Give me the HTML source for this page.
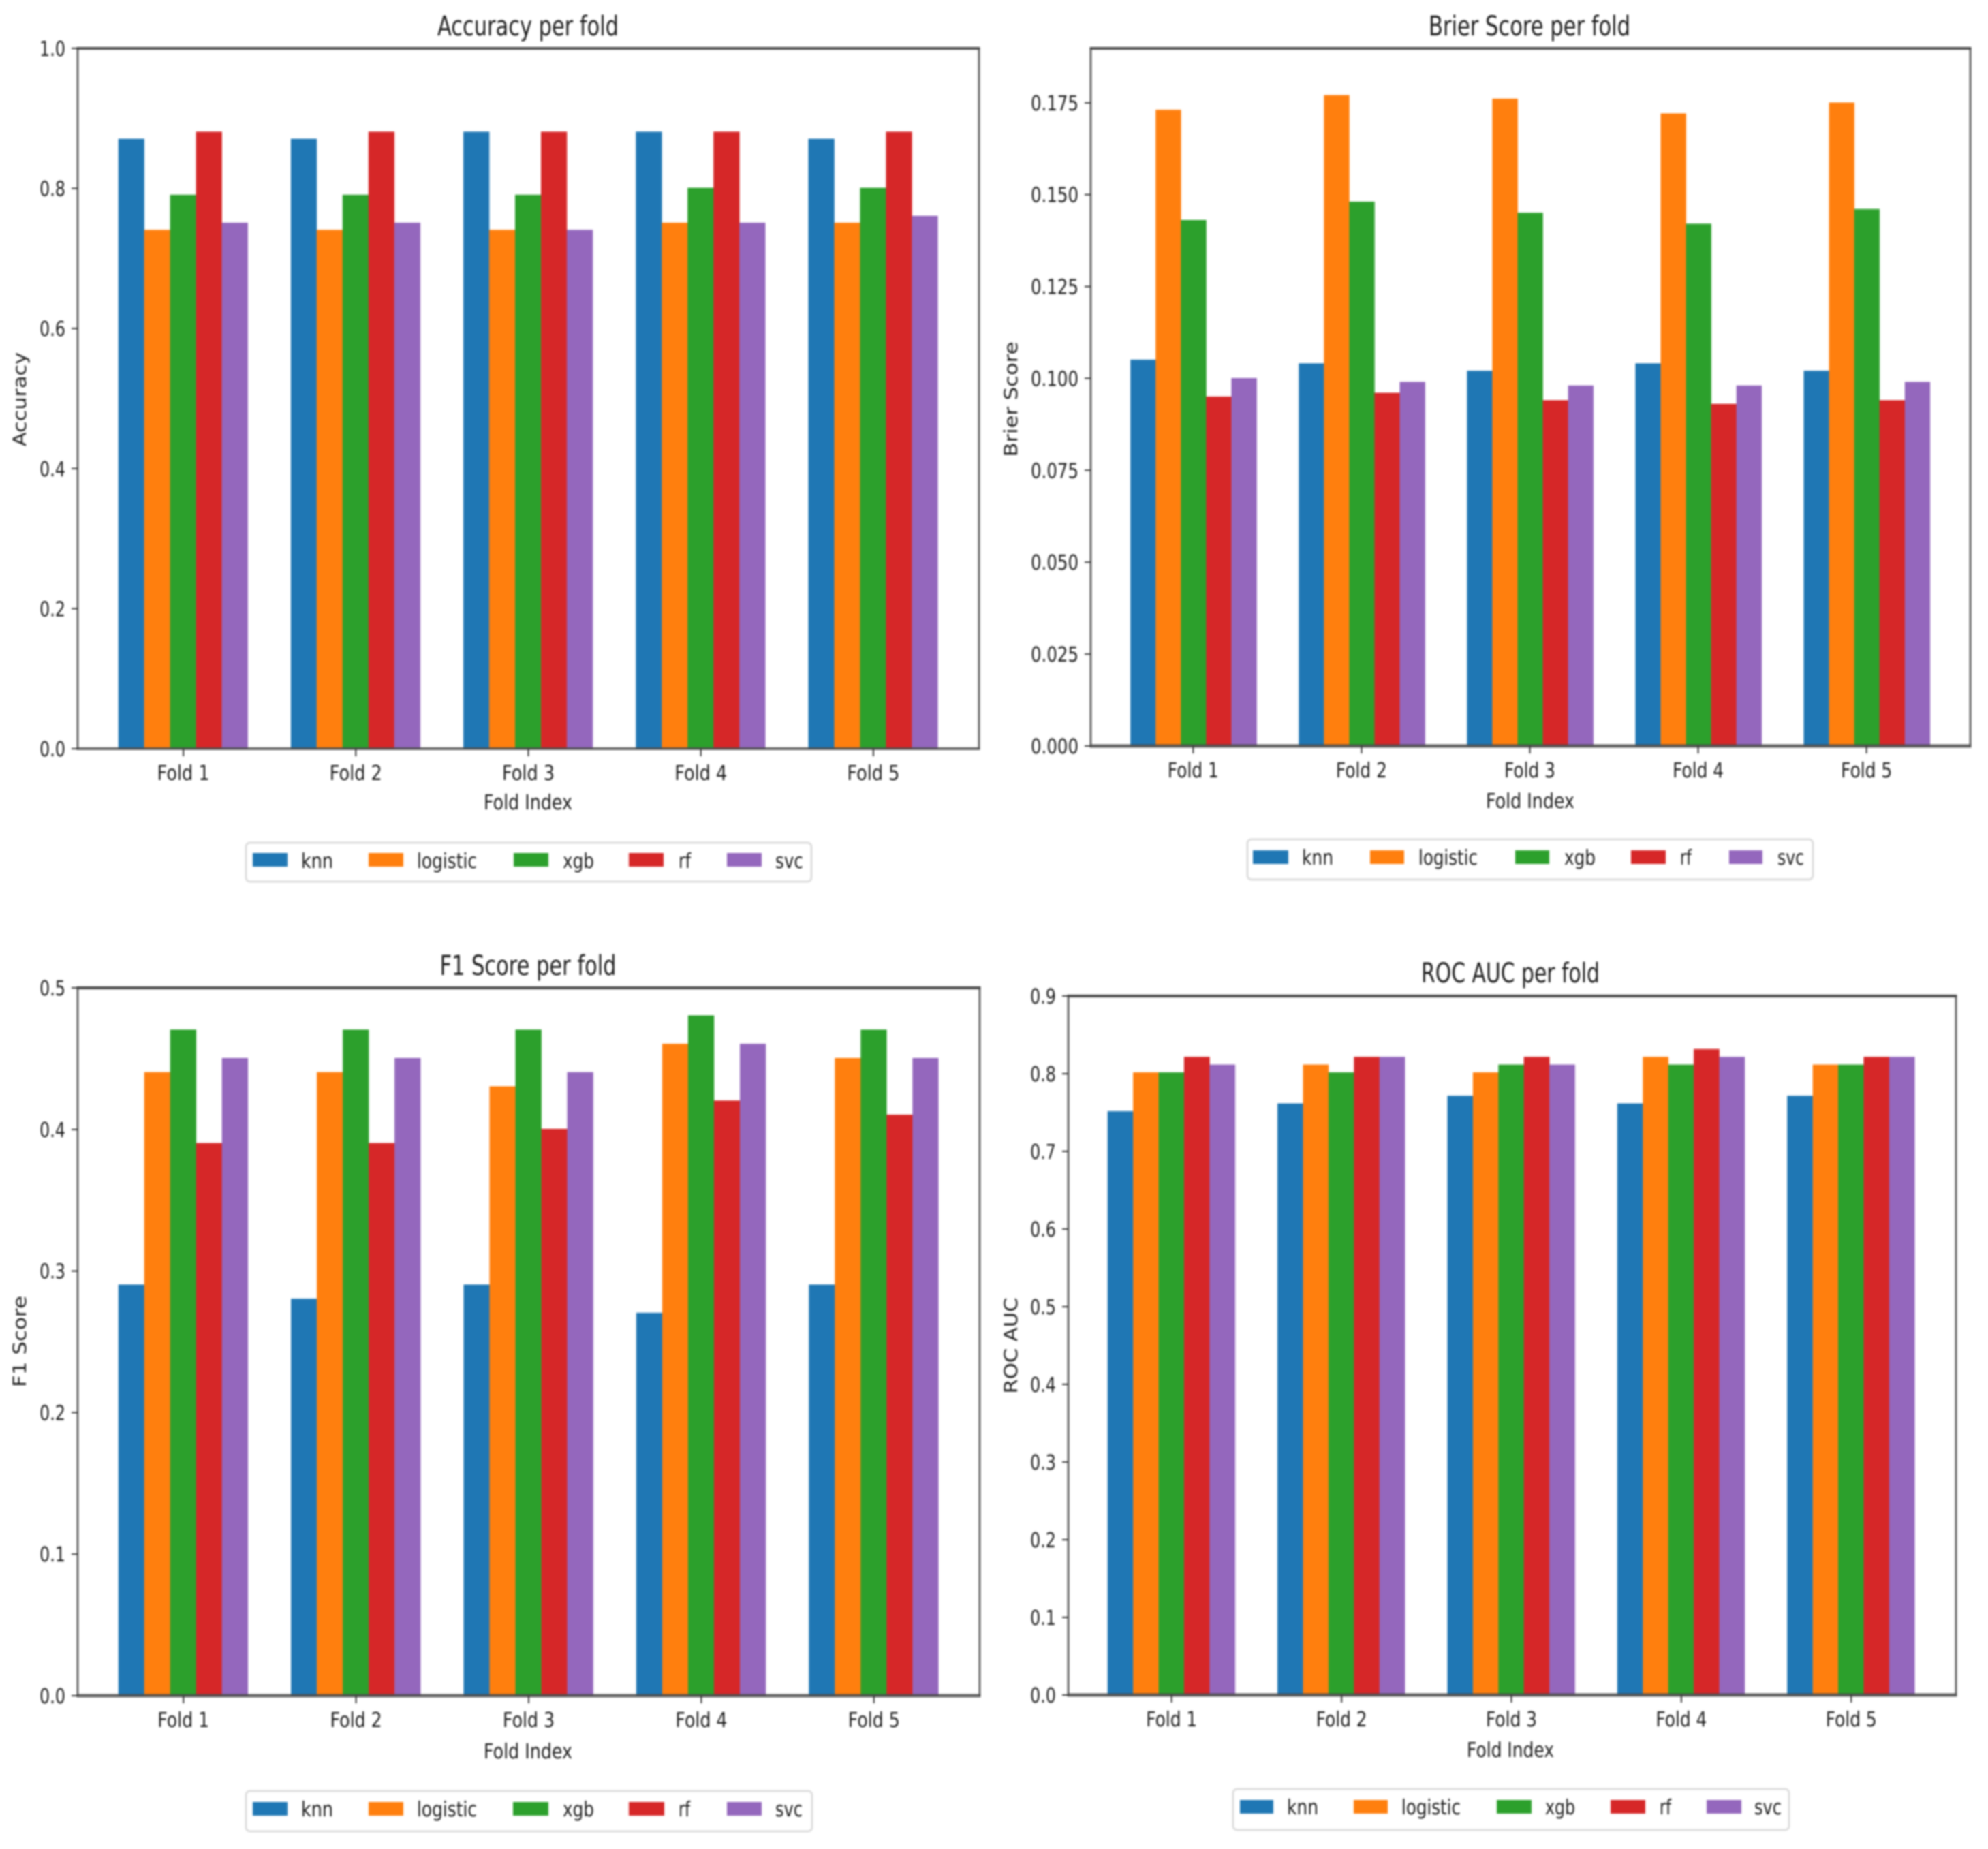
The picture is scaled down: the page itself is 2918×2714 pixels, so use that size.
<!DOCTYPE html>
<html lang="en">
<head>
<meta charset="utf-8">
<title>Cross-validation metrics per fold</title>
<style>
  html, body { margin: 0; padding: 0; background: #fff; }
  #figure { display: block; width: 2918px; height: 2714px; filter: blur(1.4px); }
  text { font-family: "DejaVu Sans", "Liberation Sans", sans-serif; fill: #1c1c1c; }
  .title { font-size: 40px; }
  .axis-label, .tick-label, .legend-label { font-size: 30px; }
  .y-title { font-size: 27px; }
  .legend-box { fill: #fff; stroke: #ddd; stroke-width: 3; }
</style>
</head>
<body>
<svg id="figure" xmlns="http://www.w3.org/2000/svg" width="2918" height="2714" viewBox="0 0 2918 2714">
  <rect x="0" y="0" width="2918" height="2714" fill="#fff"/>

  <!-- Accuracy panel -->
  <g id="panel-accuracy"></g>
  <text class="title" x="775" y="52" text-anchor="middle" textLength="266" lengthAdjust="spacingAndGlyphs">Accuracy per fold</text>
  <text class="y-title" transform="translate(38 586) rotate(-90)" text-anchor="middle" textLength="138" lengthAdjust="spacingAndGlyphs">Accuracy</text>
  <text class="axis-label" x="775" y="1188" text-anchor="middle" textLength="130" lengthAdjust="spacingAndGlyphs">Fold Index</text>
  <g>
    <rect class="legend-box" x="361" y="1237" width="830" height="57" rx="6"/>
    <rect x="371" y="1252" width="51" height="20" fill="#1f77b4"/>
    <text class="legend-label" x="442" y="1274" textLength="47" lengthAdjust="spacingAndGlyphs">knn</text>
    <rect x="541" y="1252" width="51" height="20" fill="#ff7f0e"/>
    <text class="legend-label" x="612" y="1274" textLength="88" lengthAdjust="spacingAndGlyphs">logistic</text>
    <rect x="754" y="1252" width="51" height="20" fill="#2ca02c"/>
    <text class="legend-label" x="826" y="1274" textLength="46" lengthAdjust="spacingAndGlyphs">xgb</text>
    <rect x="923" y="1252" width="51" height="20" fill="#d62728"/>
    <text class="legend-label" x="996" y="1274" textLength="18" lengthAdjust="spacingAndGlyphs">rf</text>
    <rect x="1067" y="1252" width="51" height="20" fill="#9467bd"/>
    <text class="legend-label" x="1138" y="1274" textLength="41" lengthAdjust="spacingAndGlyphs">svc</text>
  </g>

  <!-- Brier panel -->
  <g id="panel-brier"></g>
  <text class="title" x="2245" y="52" text-anchor="middle" textLength="296" lengthAdjust="spacingAndGlyphs">Brier Score per fold</text>
  <text class="y-title" transform="translate(1493 586) rotate(-90)" text-anchor="middle" textLength="169" lengthAdjust="spacingAndGlyphs">Brier Score</text>
  <text class="axis-label" x="2246" y="1186" text-anchor="middle" textLength="130" lengthAdjust="spacingAndGlyphs">Fold Index</text>
  <g>
    <rect class="legend-box" x="1831" y="1232" width="830" height="59" rx="6"/>
    <rect x="1839" y="1248" width="52" height="20" fill="#1f77b4"/>
    <text class="legend-label" x="1911" y="1269" textLength="46" lengthAdjust="spacingAndGlyphs">knn</text>
    <rect x="2011" y="1248" width="50" height="20" fill="#ff7f0e"/>
    <text class="legend-label" x="2082" y="1269" textLength="87" lengthAdjust="spacingAndGlyphs">logistic</text>
    <rect x="2224" y="1248" width="50" height="20" fill="#2ca02c"/>
    <text class="legend-label" x="2296" y="1269" textLength="46" lengthAdjust="spacingAndGlyphs">xgb</text>
    <rect x="2394" y="1248" width="51" height="20" fill="#d62728"/>
    <text class="legend-label" x="2466" y="1269" textLength="17" lengthAdjust="spacingAndGlyphs">rf</text>
    <rect x="2538" y="1248" width="49" height="20" fill="#9467bd"/>
    <text class="legend-label" x="2609" y="1269" textLength="39" lengthAdjust="spacingAndGlyphs">svc</text>
  </g>

  <!-- F1 panel -->
  <g id="panel-f1"></g>
  <text class="title" x="775" y="1431" text-anchor="middle" textLength="259" lengthAdjust="spacingAndGlyphs">F1 Score per fold</text>
  <text class="y-title" transform="translate(38 1969) rotate(-90)" text-anchor="middle" textLength="134" lengthAdjust="spacingAndGlyphs">F1 Score</text>
  <text class="axis-label" x="775" y="2581" text-anchor="middle" textLength="130" lengthAdjust="spacingAndGlyphs">Fold Index</text>
  <g>
    <rect class="legend-box" x="361" y="2629" width="831" height="59" rx="6"/>
    <rect x="371" y="2645" width="51" height="20" fill="#1f77b4"/>
    <text class="legend-label" x="442" y="2666" textLength="47" lengthAdjust="spacingAndGlyphs">knn</text>
    <rect x="541" y="2645" width="51" height="20" fill="#ff7f0e"/>
    <text class="legend-label" x="612" y="2666" textLength="88" lengthAdjust="spacingAndGlyphs">logistic</text>
    <rect x="753" y="2645" width="52" height="20" fill="#2ca02c"/>
    <text class="legend-label" x="826" y="2666" textLength="46" lengthAdjust="spacingAndGlyphs">xgb</text>
    <rect x="923" y="2645" width="52" height="20" fill="#d62728"/>
    <text class="legend-label" x="996" y="2666" textLength="17" lengthAdjust="spacingAndGlyphs">rf</text>
    <rect x="1067" y="2645" width="51" height="20" fill="#9467bd"/>
    <text class="legend-label" x="1138" y="2666" textLength="40" lengthAdjust="spacingAndGlyphs">svc</text>
  </g>

  <!-- ROC AUC panel -->
  <g id="panel-roc"></g>
  <text class="title" x="2217" y="1442" text-anchor="middle" textLength="262" lengthAdjust="spacingAndGlyphs">ROC AUC per fold</text>
  <text class="y-title" transform="translate(1493 1975) rotate(-90)" text-anchor="middle" textLength="141" lengthAdjust="spacingAndGlyphs">ROC AUC</text>
  <text class="axis-label" x="2217" y="2579" text-anchor="middle" textLength="128" lengthAdjust="spacingAndGlyphs">Fold Index</text>
  <g>
    <rect class="legend-box" x="1810" y="2626" width="816" height="60" rx="6"/>
    <rect x="1820" y="2642" width="49" height="20" fill="#1f77b4"/>
    <text class="legend-label" x="1889" y="2663" textLength="46" lengthAdjust="spacingAndGlyphs">knn</text>
    <rect x="1987" y="2642" width="50" height="20" fill="#ff7f0e"/>
    <text class="legend-label" x="2057" y="2663" textLength="87" lengthAdjust="spacingAndGlyphs">logistic</text>
    <rect x="2197" y="2642" width="51" height="20" fill="#2ca02c"/>
    <text class="legend-label" x="2268" y="2663" textLength="44" lengthAdjust="spacingAndGlyphs">xgb</text>
    <rect x="2364" y="2642" width="51" height="20" fill="#d62728"/>
    <text class="legend-label" x="2436" y="2663" textLength="17" lengthAdjust="spacingAndGlyphs">rf</text>
    <rect x="2505" y="2642" width="51" height="20" fill="#9467bd"/>
    <text class="legend-label" x="2575" y="2663" textLength="40" lengthAdjust="spacingAndGlyphs">svc</text>
  </g>
</svg>

<script>
// ---- Data ----
const folds = ["Fold 1", "Fold 2", "Fold 3", "Fold 4", "Fold 5"];
const models = ["knn", "logistic", "xgb", "rf", "svc"];

const accuracyKnn      = [0.87, 0.87, 0.88, 0.88, 0.87];
const accuracyLogistic = [0.74, 0.74, 0.74, 0.75, 0.75];
const accuracyXgb      = [0.79, 0.79, 0.79, 0.80, 0.80];
const accuracyRf       = [0.88, 0.88, 0.88, 0.88, 0.88];
const accuracySvc      = [0.75, 0.75, 0.74, 0.75, 0.76];
const accuracyTicks       = [0, 0.2, 0.4, 0.6, 0.8, 1.0];
const accuracyTickLabels  = ["0.0", "0.2", "0.4", "0.6", "0.8", "1.0"];

const brierKnn      = [0.105, 0.104, 0.102, 0.104, 0.102];
const brierLogistic = [0.173, 0.177, 0.176, 0.172, 0.175];
const brierXgb      = [0.143, 0.148, 0.145, 0.142, 0.146];
const brierRf       = [0.095, 0.096, 0.094, 0.093, 0.094];
const brierSvc      = [0.100, 0.099, 0.098, 0.098, 0.099];
const brierTicks       = [0, 0.025, 0.05, 0.075, 0.1, 0.125, 0.15, 0.175];
const brierTickLabels  = ["0.000", "0.025", "0.050", "0.075", "0.100", "0.125", "0.150", "0.175"];

const f1Knn      = [0.29, 0.28, 0.29, 0.27, 0.29];
const f1Logistic = [0.44, 0.44, 0.43, 0.46, 0.45];
const f1Xgb      = [0.47, 0.47, 0.47, 0.48, 0.47];
const f1Rf       = [0.39, 0.39, 0.40, 0.42, 0.41];
const f1Svc      = [0.45, 0.45, 0.44, 0.46, 0.45];
const f1Ticks       = [0, 0.1, 0.2, 0.3, 0.4, 0.5];
const f1TickLabels  = ["0.0", "0.1", "0.2", "0.3", "0.4", "0.5"];

const rocKnn      = [0.75, 0.76, 0.77, 0.76, 0.77];
const rocLogistic = [0.80, 0.81, 0.80, 0.82, 0.81];
const rocXgb      = [0.80, 0.80, 0.81, 0.81, 0.81];
const rocRf       = [0.82, 0.82, 0.82, 0.83, 0.82];
const rocSvc      = [0.81, 0.82, 0.81, 0.82, 0.82];
const rocTicks       = [0, 0.1, 0.2, 0.3, 0.4, 0.5, 0.6, 0.7, 0.8, 0.9];
const rocTickLabels  = ["0.0", "0.1", "0.2", "0.3", "0.4", "0.5", "0.6", "0.7", "0.8", "0.9"];

// ---- Layout and drawing ----
const seriesColors = ["#1f77b4", "#ff7f0e", "#2ca02c", "#d62728", "#9467bd"];
const SVG_NS = "http://www.w3.org/2000/svg";
const BAR_UNITS = 0.15;
const X_MIN = -0.6125;
const X_MAX = 4.6125;

function svgEl(tag, attrs, parent) {
  const el = document.createElementNS(SVG_NS, tag);
  for (const k in attrs) el.setAttribute(k, attrs[k]);
  parent.appendChild(el);
  return el;
}

function drawPanel(cfg) {
  const root = document.getElementById(cfg.id);
  const xScale = function (u) { return cfg.left + (u - X_MIN) / (X_MAX - X_MIN) * (cfg.right - cfg.left); };
  const yScale = function (v) { return cfg.bottom - v / cfg.yMax * (cfg.bottom - cfg.top); };
  const barWidth = xScale(BAR_UNITS) - xScale(0);

  // Bars
  cfg.series.forEach(function (values, s) {
    values.forEach(function (value, f) {
      const xLeft = xScale(f + (s - 2.5) * BAR_UNITS) + cfg.barShift;
      const yTop = yScale(value) - cfg.barLift;
      const bar = svgEl("rect", {
        x: xLeft,
        y: yTop,
        width: barWidth + 0.3,
        height: yScale(0) - yTop,
        fill: seriesColors[s]
      }, root);
      
      
    });
  });

  // Spines
  const spineLeft = svgEl("line", { x1: cfg.left, x2: cfg.left, y1: cfg.top, y2: cfg.bottom, stroke: "#666", "stroke-width": 3 }, root);
  
  
  const spineRight = svgEl("line", { x1: cfg.right, x2: cfg.right, y1: cfg.top, y2: cfg.bottom, stroke: "#666", "stroke-width": 3 }, root);
  
  
  const spineTop = svgEl("line", { x1: cfg.left - 1.5, x2: cfg.right + 1.5, y1: cfg.top, y2: cfg.top, stroke: "#4a4a4a", "stroke-width": 4 }, root);
  
  
  const spineBottom = svgEl("line", { x1: cfg.left - 1.5, x2: cfg.right + 1.5, y1: cfg.bottom, y2: cfg.bottom, stroke: "#4a4a4a", "stroke-width": cfg.bottomSpine, "stroke-opacity": 0.85 }, root);
  
  

  // Y ticks
  cfg.ticks.forEach(function (t, i) {
    const y = yScale(t);
    const tick = svgEl("line", { x1: cfg.left - 9, x2: cfg.left, y1: y, y2: y, stroke: "#333", "stroke-width": 2 }, root);
    
    
    const label = svgEl("text", {
      class: "tick-label",
      x: cfg.left - 18,
      y: y + 11,
      "text-anchor": "end",
      textLength: cfg.yLabelWidth,
      lengthAdjust: "spacingAndGlyphs"
    }, root);
    
    
    label.textContent = cfg.tickLabels[i];
  });

  // X ticks
  folds.forEach(function (name, f) {
    const x = xScale(f) + cfg.tickShift;
    const tick = svgEl("line", { x1: x, x2: x, y1: cfg.bottom, y2: cfg.bottom + 11, stroke: "#333", "stroke-width": 2 }, root);
    
    
    const label = svgEl("text", {
      class: "tick-label",
      x: x,
      y: cfg.bottom + 46,
      "text-anchor": "middle",
      textLength: cfg.xLabelWidth,
      lengthAdjust: "spacingAndGlyphs"
    }, root);
    
    
    label.textContent = name;
  });
}

drawPanel({
  id: "panel-accuracy", key: "accuracy",
  left: 114, right: 1437, top: 71, bottom: 1099, yMax: 1.0, yLabelWidth: 38, xLabelWidth: 77,
  barShift: -0.5, tickShift: 0, barLift: 1, bottomSpine: 4,
  series: [accuracyKnn, accuracyLogistic, accuracyXgb, accuracyRf, accuracySvc],
  ticks: accuracyTicks, tickLabels: accuracyTickLabels
});
drawPanel({
  id: "panel-brier", key: "brier",
  left: 1601, right: 2892, top: 71, bottom: 1095, yMax: 0.1898, yLabelWidth: 70, xLabelWidth: 75,
  barShift: -0.5, tickShift: -1, barLift: 0.5, bottomSpine: 5,
  series: [brierKnn, brierLogistic, brierXgb, brierRf, brierSvc],
  ticks: brierTicks, tickLabels: brierTickLabels
});
drawPanel({
  id: "panel-f1", key: "f1",
  left: 114, right: 1438, top: 1450, bottom: 2489, yMax: 0.5, yLabelWidth: 38, xLabelWidth: 76,
  barShift: -0.5, tickShift: 0, barLift: 1, bottomSpine: 5,
  series: [f1Knn, f1Logistic, f1Xgb, f1Rf, f1Svc],
  ticks: f1Ticks, tickLabels: f1TickLabels
});
drawPanel({
  id: "panel-roc", key: "roc-auc",
  left: 1568, right: 2871, top: 1462, bottom: 2488, yMax: 0.9, yLabelWidth: 38, xLabelWidth: 75,
  barShift: -1.5, tickShift: -1, barLift: 2, bottomSpine: 5,
  series: [rocKnn, rocLogistic, rocXgb, rocRf, rocSvc],
  ticks: rocTicks, tickLabels: rocTickLabels
});
</script>
</body>
</html>
